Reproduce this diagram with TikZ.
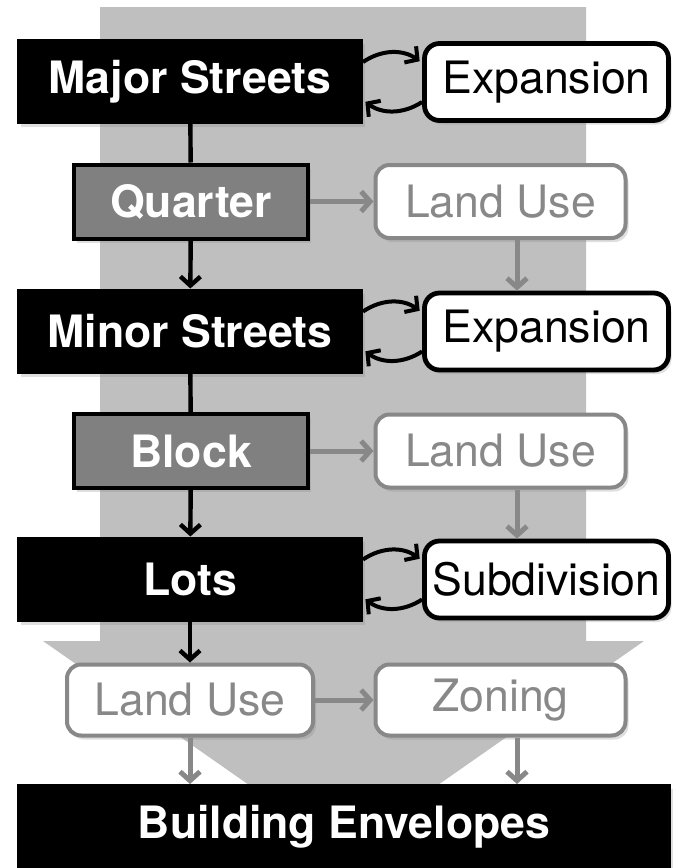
\documentclass[tikz,border=0pt]{standalone}
\usepackage{fontspec}
\setmainfont{TeX Gyre Heros}
\usepackage{tikz}
\usetikzlibrary{
    arrows.meta,
    positioning,
    calc,
    shadows
}
\definecolor{flowGray}{RGB}{191,191,191}
\definecolor{midGray}{RGB}{128,128,128}
\definecolor{softGray}{RGB}{136,136,136}
\newcommand{\labfont}{\fontsize{22.3}{25}\selectfont}
\tikzset{
  shade/.style    = {drop shadow={shadow xshift=1.5pt, shadow yshift=-2pt,
                     opacity=0.25}},
  stage/.style    = {shade, draw, fill=black, text=white, line width=1pt,
                     minimum width=172pt, minimum height=41.5pt,
                     font=\labfont\bfseries, inner sep=0pt},
  substage/.style = {shade, draw, fill=midGray, text=white, line width=2pt,
                     minimum width=117pt, minimum height=37pt,
                     font=\labfont\bfseries, inner sep=0pt},
  loopbox/.style  = {shade, draw, fill=white, rounded corners=7.5pt,
                     line width=2.4pt, minimum width=122pt,
                     minimum height=38.5pt, font=\labfont, inner sep=0pt},
  attr/.style     = {shade, draw=softGray, fill=white, text=softGray,
                     rounded corners=7pt, line width=2pt,
                     minimum width=125pt, minimum height=36.5pt,
                     font=\labfont, inner sep=0pt},
  arr/.style      = {-{Straight Barb[length=4.5pt, width=10pt]},
                     line width=2.2pt},
  arrg/.style     = {arr, softGray, line width=2.5pt},
  link/.style     = {line width=2.2pt},
  cyc/.style      = {arr, line width=2pt, shorten >=1.5pt}
}

\begin{document}
\begin{tikzpicture}[x=0.5pt, y=-0.5pt]

\path[use as bounding box] (0,0) rectangle (680,868);

% big flow arrow in the back
\fill[flowGray] (100,7) -- (586,7) -- (586,641) -- (644,641)
    -- (343.5,851) -- (43,641) -- (100,641) -- cycle;

% left column
\node[stage] (major) at (190,81.5) {Major Streets};
\node[substage] (quarter) at (191,201.5) {Quarter};
\node[stage] (minor) at (190,331) {Minor Streets};
\node[substage] (block) at (191,451) {Block};
\node[stage] (lots) at (190,579) {Lots};
\node[attr, minimum width=123pt, minimum height=35.5pt] (lu3) at (190,700)
    {Land Use};

% right column
\node[loopbox] (exp1) at (546.5,82) {Expansion};
\node[attr] (lu1) at (500.5,201.5) {Land Use};
\node[loopbox] (exp2) at (546.5,331.5) {Expansion};
\node[attr] (lu2) at (500.5,451) {Land Use};
\node[loopbox] (subdiv) at (546.5,579.5) {Subdivision};
\node[attr, minimum height=35.5pt] (zoning) at (500.5,700) {Zoning};

% bottom
\node[stage, minimum width=326pt, minimum height=41.5pt]
    (build) at (344,826.5) {Building Envelopes};

\coordinate (rcol) at (517,0);

% main line
\draw[link] (major) -- (quarter);
\draw[arr] (quarter) -- (minor);
\draw[link] (minor) -- (block);
\draw[arr] (block) -- (lots);
\draw[arr] (lots) -- (lu3);
\draw[arrg] (lu3) -- (lu3 |- build.north);

% side branches
\draw[arrg] (quarter) -- (lu1);
\draw[arrg] (block) -- (lu2);
\draw[arrg] (lu3) -- (zoning);
\draw[arrg] (lu1.south -| rcol) -- (exp2.north -| rcol);
\draw[arrg] (lu2.south -| rcol) -- (subdiv.north -| rcol);
\draw[arrg] (zoning.south -| rcol) -- (build.north -| rcol);

% loops
\foreach \a/\b in {major/exp1, minor/exp2, lots/subdiv} {
  \draw[cyc] ([yshift=9.75pt]\a.east) to[bend left=35]
      ([yshift=9.5pt]\b.west);
  \draw[cyc] ([yshift=-10pt]\b.west) to[bend left=35]
      ([yshift=-9.25pt]\a.east);
}

\end{tikzpicture}
\end{document}
